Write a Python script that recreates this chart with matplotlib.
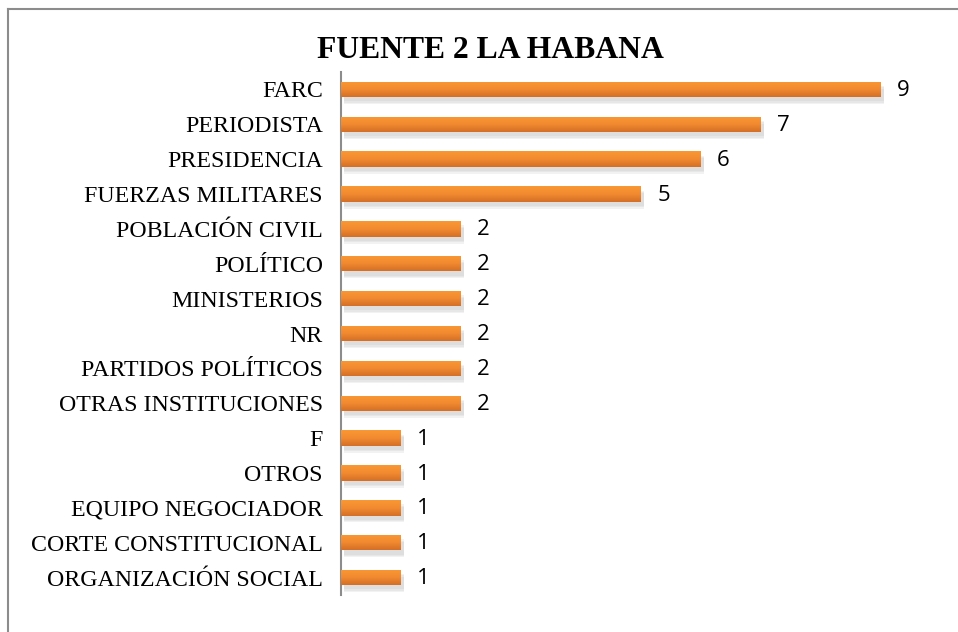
import matplotlib.pyplot as plt
import matplotlib.patheffects as pe
from matplotlib.lines import Line2D
from matplotlib.colors import LinearSegmentedColormap
import numpy as np

# datos
categorias = ["FARC", "PERIODISTA", "PRESIDENCIA", "FUERZAS MILITARES",
              "POBLACIÓN CIVIL", "POLÍTICO", "MINISTERIOS", "NR",
              "PARTIDOS POLÍTICOS", "OTRAS INSTITUCIONES", "F", "OTROS",
              "EQUIPO NEGOCIADOR", "CORTE CONSTITUCIONAL", "ORGANIZACIÓN SOCIAL"]
valores = [9, 7, 6, 5, 2, 2, 2, 2, 2, 2, 1, 1, 1, 1, 1]
titulo = "FUENTE 2 LA HABANA"

W, H = 958, 632
fig = plt.figure(figsize=(W / 100, H / 100), dpi=100)

# marco del grafico (solo arriba e izquierda visibles)
fig.add_artist(Line2D([8 / W, 8 / W], [0, 1 - 9 / H], color="#8c8c8c", lw=1.5))
fig.add_artist(Line2D([8 / W, 1], [1 - 9 / H, 1 - 9 / H], color="#8c8c8c", lw=1.5))

ax = fig.add_axes([341 / W, 1 - 595 / H, 600 / W, 523 / H])
n = len(categorias)
y = np.arange(n)[::-1]

alto = 0.44
# sombra suave: varias capas desplazadas
sombra = [pe.SimplePatchShadow(offset=(2, -3 - k), shadow_rgbFace="#a8a8a8", alpha=0.14)
          for k in range(3)]
barras = ax.barh(y, valores, height=alto, color="#EE8630", zorder=2,
                 path_effects=sombra + [pe.Normal()])

# degradado vertical en cada barra (claro arriba, oscuro abajo)
grad = np.linspace(0, 1, 64).reshape(-1, 1)
cmap = LinearSegmentedColormap.from_list("nar", ["#FA9834", "#F28A30", "#D46F26"])
for b in barras:
    x0, y0 = b.get_x(), b.get_y()
    im = ax.imshow(grad, extent=[x0, x0 + b.get_width(), y0, y0 + b.get_height()],
                   origin="lower", cmap=cmap.reversed(), aspect="auto", zorder=3)
    im.set_clip_path(b)

for yi, v in zip(y, valores):
    ax.text(v + 0.27, yi - 0.03, str(v), va="center", ha="left", fontsize=16,
            family="Open Sans", color="black")

ax.set_xlim(0, 10)
ax.set_ylim(-0.5, n - 0.5)
ax.set_yticks(y)
ax.set_yticklabels(categorias, family="Liberation Serif", fontsize=17.2)
ax.tick_params(axis="y", length=0, pad=13)
ax.set_xticks([])
for s in ["top", "right", "bottom"]:
    ax.spines[s].set_visible(False)
ax.spines["left"].set_color("#8c8c8c")
ax.spines["left"].set_linewidth(1.5)

fig.text(490 / W, 1 - 50 / H, titulo, ha="center", va="center",
         family="Liberation Serif", fontsize=22.8, fontweight="bold")

fig.savefig("out.png", dpi=100)
